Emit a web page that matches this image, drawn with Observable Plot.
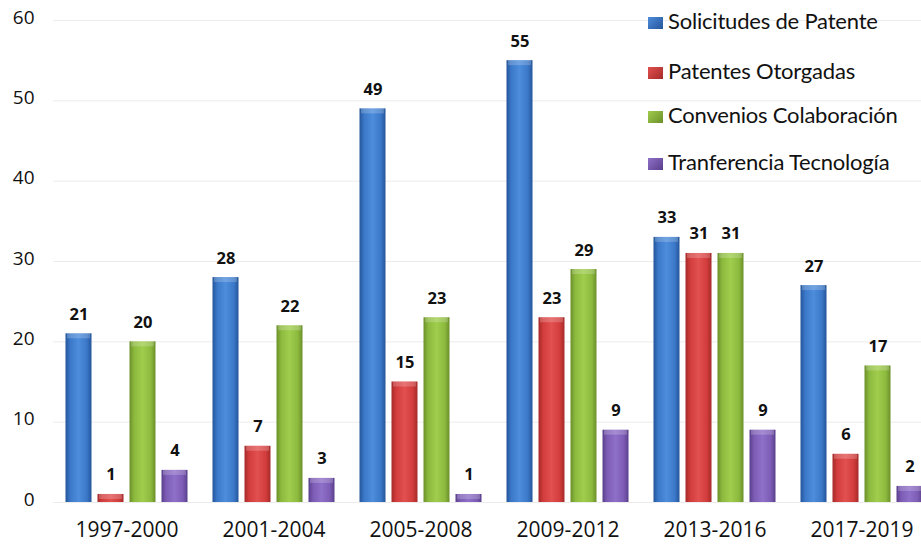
<!DOCTYPE html>
<html>
<head>
<meta charset="utf-8">
<script src="https://cdn.jsdelivr.net/npm/d3@7"></script>
<script src="https://cdn.jsdelivr.net/npm/@observablehq/plot@0.6"></script>
<style>
  html, body { margin: 0; padding: 0; background: #fff; overflow: hidden; width: 921px; height: 545px; }
  #wrap { position: relative; width: 921px; height: 545px; overflow: hidden; }
  #wrap svg { max-width: none !important; display: block; }
  #legend { position: absolute; left: 0; top: 0; font-family: Lato, "Open Sans", sans-serif; font-size: 22px; color: #111; }
  .li { position: absolute; left: 648px; white-space: nowrap; line-height: 1; letter-spacing: -0.2px; }
  .sw { display: inline-block; width: 15px; height: 12px; margin-right: 5px; vertical-align: baseline; }
</style>
</head>
<body>
<div id="wrap"><div id="legend"></div></div>
<script>
const periods = ["1997-2000", "2001-2004", "2005-2008", "2009-2012", "2013-2016", "2017-2019"];
const seriesNames = ["Solicitudes de Patente", "Patentes Otorgadas", "Convenios Colaboración", "Tranferencia Tecnología"];
const solicitudes = [21, 28, 49, 55, 33, 27];
const otorgadas = [1, 7, 15, 23, 31, 6];
const convenios = [20, 22, 23, 29, 31, 17];
const transferencia = [4, 3, 1, 9, 9, 2];
const yTicks = [0, 10, 20, 30, 40, 50, 60];

const seriesValues = [solicitudes, otorgadas, convenios, transferencia];
const gradIds = ["gBlue", "gRed", "gGreen", "gPurple"];
const gradStops = [
  ["#24559a", "#3b78c8", "#4d8ddc", "#3b78c8", "#24559a"],
  ["#a52a2a", "#d23c3c", "#e25050", "#d23c3c", "#a52a2a"],
  ["#6b8f2a", "#8cba3e", "#a0cd4c", "#8cba3e", "#6b8f2a"],
  ["#5a3f8c", "#7c5cb4", "#8f70c8", "#7c5cb4", "#5a3f8c"]
];

const data = [];
periods.forEach((p, i) => {
  seriesNames.forEach((s, j) => {
    data.push({period: p, series: s, value: seriesValues[j][i]});
  });
});

const chart = Plot.plot({
  width: 935,
  height: 545,
  marginLeft: 52.5,
  marginRight: 0,
  marginTop: 20,
  marginBottom: 43,
  style: {fontFamily: "'Open Sans', sans-serif", background: "transparent", overflow: "visible", maxWidth: "none"},
  fx: {domain: periods, padding: 0, label: null},
  x: {domain: seriesNames, paddingInner: 0.1875, paddingOuter: 0.39, axis: null},
  y: {domain: [0, 60], label: null},
  color: {domain: seriesNames, range: gradIds.map(id => `url(#${id})`)},
  marks: [
    Plot.ruleY(yTicks, {stroke: "#ececec", strokeWidth: 1}),
    Plot.axisY({ticks: yTicks, tickSize: 0, tickPadding: 19, dy: -3, fontSize: 19, fill: "#111", label: null}),
    Plot.axisFx({anchor: "bottom", tickSize: 0, tickPadding: 20, fontSize: 21, fill: "#111", label: null}),
    Plot.barY(data, {fx: "period", x: "series", y: "value", fill: "series"}),
    Plot.barY(data, {fx: "period", x: "series", y1: "value", y2: "value", insetBottom: -5, insetLeft: 1.5, insetRight: 1.5, fill: "white", fillOpacity: 0.2}),
    Plot.text(data, {fx: "period", x: "series", y: "value", text: d => String(d.value), lineAnchor: "bottom", dy: -14, fontSize: 16.5, fontWeight: "bold", fill: "#111"})
  ]
});

// gradients
const svg = d3.select(chart);
const defs = svg.insert("defs", ":first-child");
gradIds.forEach((id, k) => {
  const g = defs.append("linearGradient").attr("id", id).attr("x1", "0").attr("x2", "1").attr("y1", "0").attr("y2", "0");
  const offs = [0, 0.18, 0.5, 0.82, 1];
  offs.forEach((o, m) => g.append("stop").attr("offset", o).attr("stop-color", gradStops[k][m]));
});

document.getElementById("wrap").prepend(chart);

// legend
const baselines = [28, 78, 122, 169];
const legend = d3.select("#legend");
seriesNames.forEach((s, i) => {
  const row = legend.append("div").attr("class", "li").style("top", (baselines[i] - 18) + "px");
  row.append("span").attr("class", "sw").style("background", `linear-gradient(135deg, ${gradStops[i][2]}, ${gradStops[i][0]})`);
  row.append("span").text(s);
});
</script>
</body>
</html>
